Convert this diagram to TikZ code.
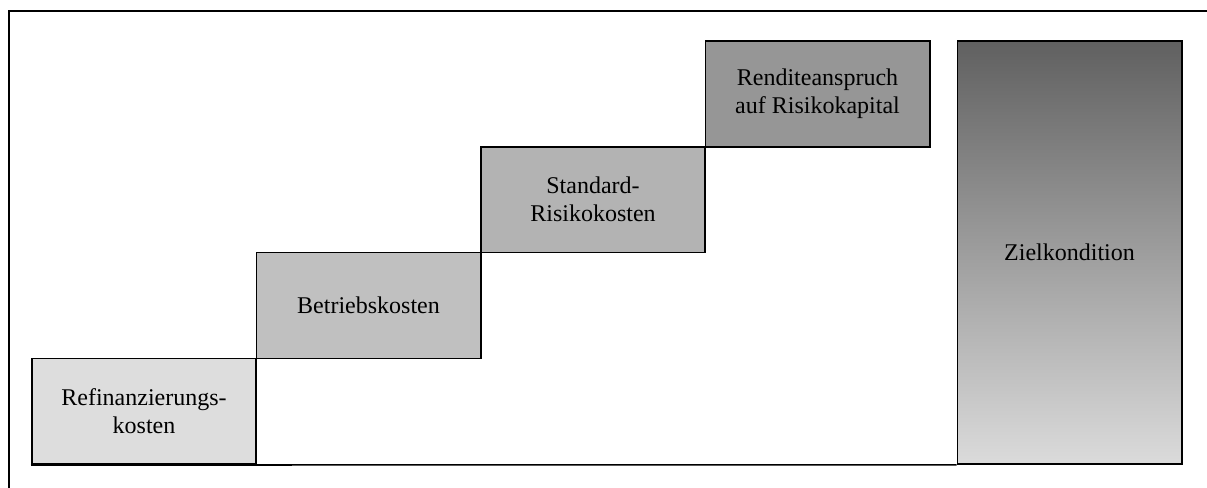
\documentclass[tikz,border=0pt]{standalone}
\usepackage{fontspec}
\setmainfont{Liberation Serif}
\usetikzlibrary{calc}
\definecolor{col0}{RGB}{221,221,221}
\definecolor{col1}{RGB}{192,192,192}
\definecolor{col2}{RGB}{179,179,179}
\definecolor{col3}{RGB}{150,150,150}
\definecolor{zieltop}{RGB}{96,96,96}
\definecolor{zielbot}{RGB}{219,219,219}

\begin{document}
\begin{tikzpicture}[
		x=0.5pt,y=-0.5pt,
		every node/.style={font=\fontsize{12}{14}\selectfont,align=center,inner sep=0pt},
		stufe/.style={draw,line width=0.8pt,minimum width=112.2pt,minimum height=52.9pt},
		ziel/.style={draw,line width=0.8pt,minimum width=112.2pt,minimum height=211.5pt,
			top color=zieltop,bottom color=zielbot}
	]
	\useasboundingbox (0,0) rectangle (1207,488);
	%frame
		\draw[line width=1pt] (8.5,488) -- (8.5,10.5) -- (1207,10.5);
	%cost steps
		\foreach \x/\t in {0/{Refinanzierungs-\\kosten}, 1/{Betriebskosten}, 2/{Standard-\\Risikokosten}, 3/{Renditeanspruch\\auf Risikokapital}}
			\node[stufe,fill=col\x] (k\x) at (144+224.5*\x, 411.3-105.8*\x) {\t};
	%target
		\node[ziel] (z) at (1069.5,252.5) {Zielkondition};
	%base line
		\draw[line width=0.8pt] (k0.south west) -- (z.south west);
	\end{tikzpicture}
\end{document}
